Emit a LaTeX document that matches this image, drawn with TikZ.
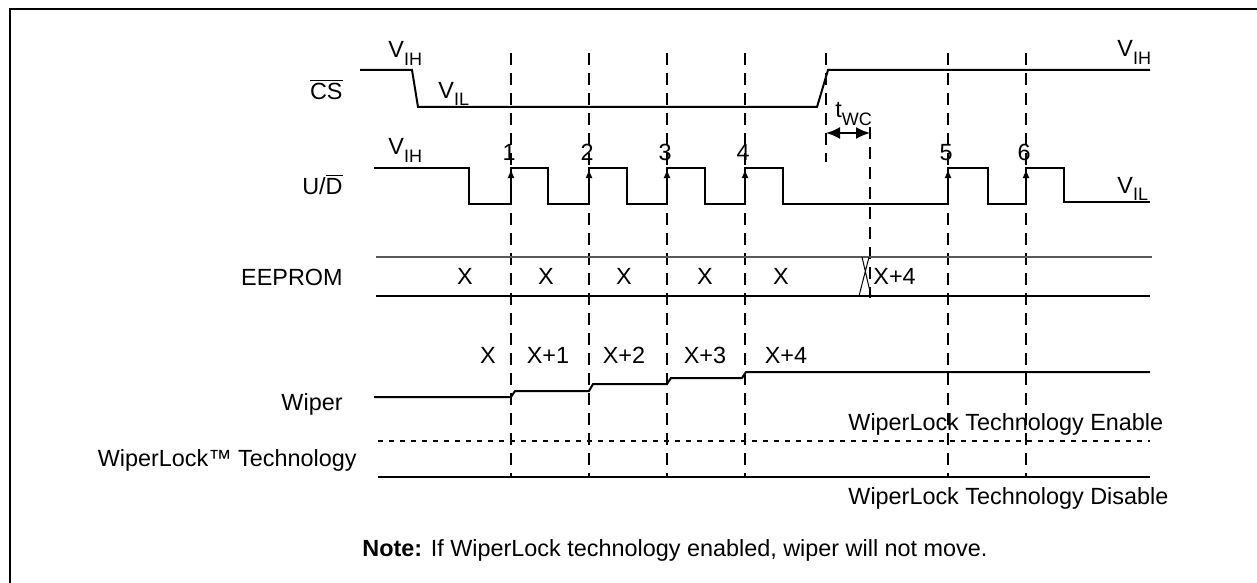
\documentclass[tikz,border=0pt]{standalone}
\usepackage{fontspec}
\setmainfont{Liberation Sans}
\usepackage{tikz}
\usetikzlibrary{arrows.meta}
\newcommand{\lvl}[2]{#1\raisebox{-0.3em}{\fontsize{9}{9}\selectfont #2}}
\tikzset{wave/.style={line width=1pt,line join=miter},
         grid/.style={line width=1pt,dash pattern=on 6pt off 4pt},
         lbl/.style={inner sep=0pt,font=\fontsize{11.7}{14}\selectfont},
         rise/.style={line width=1pt,-{Latex[length=4.5pt,width=3.5pt]}}}% arrows on the clock edges

\begin{document}
\begin{tikzpicture}[x=0.5pt,y=-0.5pt]
\useasboundingbox (0,0) rectangle (1257,583);
\draw[line width=1.2pt] (10,583)--(10,9)--(1257,9);
\foreach \x/\xtext in {511/1,589/2,667/3,745/4,948/5,1026/6}
  \draw[grid] (\x,53)--(\x,477) (\x-2,160) node[lbl,anchor=base] (n\xtext) {\xtext};
\draw[grid] (826,53)--(826,162);
\draw[grid] (870,127)--(870,298);
\node[lbl,anchor=base east] (cs) at (343,100) {$\overline{\mbox{CS}}$};
\node[lbl,anchor=base east] (ud) at (343,194) {U/$\overline{\mbox{D}}$};
\node[lbl,anchor=base east] (ee) at (343,285) {EEPROM};
\node[lbl,anchor=base east] (wp) at (343,410) {Wiper};
\node[lbl,anchor=base east] (wl) at (357,466) {WiperLock™ Technology};
\draw[wave] (360,70)--(412,70)--(418,107)--(817,107)--(828,70)--(1150,70);
\node[lbl,anchor=base west] (csh) at (388,58) {\lvl{V}{IH}};
\node[lbl,anchor=base west] (csl) at (438,98) {\lvl{V}{IL}};
\node[lbl,anchor=base west] (csr) at (1117,57) {\lvl{V}{IH}};
\draw[line width=1pt,{Latex[length=7pt,width=6pt]}-{Latex[length=7pt,width=6pt]}] (826,133)--(870,133);
\node[lbl,anchor=base west] (twc) at (835,118) {\lvl{t}{WC}};
\draw[wave] (374,168)--(469,168)--(469,204)--(511,204)--(511,168)--(548,168)--(548,204)
  --(589,204)--(589,168)--(627,168)--(627,204)--(667,204)--(667,168)--(705,168)--(705,204)
  --(745,204)--(745,168)--(783,168)--(783,204)--(948,204)--(948,168)--(988,168)--(988,204)
  --(1026,204)--(1026,168)--(1064,168)--(1064,202)--(1150,202);
\foreach \x in {511,589,667,745,948,1026}
  \draw[rise] (\x,204)--(\x,169);
\node[lbl,anchor=base west] (udh) at (388,155) {\lvl{V}{IH}};
\node[lbl,anchor=base west] (udl) at (1117,193) {\lvl{V}{IL}};
\draw[line width=0.6pt,black!65] (376,257)--(1152,257);
\draw[wave] (376,296)--(1150,296);
\draw[line width=0.5pt] (859,296)--(869,257) (862,257)--(871,296);
\foreach \x/\xtext in {465/X,546/X,624/X,705/X,781/X}
  \node[lbl,anchor=base] at (\x,284) {\xtext};
\node[lbl,anchor=base west] (ex4) at (873,284) {X+4};
\draw[wave] (374,397)--(511,397)--(515,391)--(589,391)--(593,384)--(667,384)--(671,378)
  --(742,378)--(746,372)--(1150,372);
\foreach \x/\xtext in {488/X,548/X+1,624/X+2,705/X+3,786/X+4}
  \node[lbl,anchor=base] at (\x,363) {\xtext};
\draw[line width=1pt,dash pattern=on 2.5pt off 3pt] (378,441)--(1150,441);
\draw[wave] (378,477)--(1150,477);
\node[lbl,anchor=base west] (en) at (848,430) {WiperLock Technology Enable};
\node[lbl,anchor=base west] (dis) at (848,504) {WiperLock Technology Disable};
\node[lbl,anchor=base west] (note) at (362,556) {\textbf{Note:} If WiperLock technology enabled, wiper will not move.};
\end{tikzpicture}
\end{document}
